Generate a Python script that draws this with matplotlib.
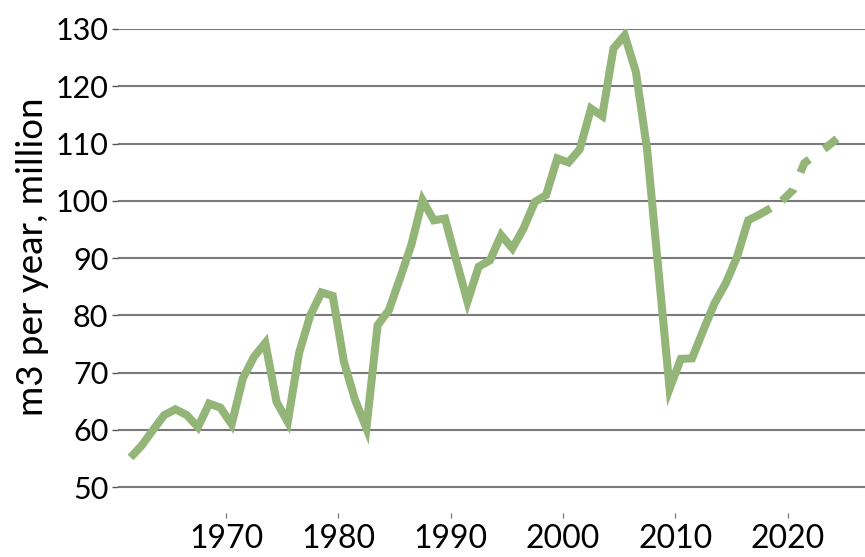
"""Annual volume, m3 per year (million), history and projection."""

import matplotlib
matplotlib.use("Agg")
import matplotlib.pyplot as plt
import numpy as np

plt.rcParams["font.family"] = ["Lato", "DejaVu Sans"]

# history 1961-2018
hist_years = list(range(1961, 2019))
hist_values = [
    55.2, 57.3, 60.0, 62.6, 63.6, 62.6, 60.5, 64.6, 63.9, 61.0,
    69.0, 72.8, 75.2, 64.9, 61.4, 73.4, 80.0, 84.0, 83.4, 71.9,
    65.2, 60.3, 78.3, 80.9, 86.5, 92.3, 100.1, 96.6, 96.9, 89.6,
    82.4, 88.5, 89.6, 94.0, 91.7, 95.2, 99.8, 101.0, 107.4, 106.7,
    109.0, 116.1, 114.8, 126.6, 128.9, 122.5, 108.9, 88.0, 67.2, 72.4,
    72.5, 77.4, 82.1, 85.6, 90.2, 96.6, 97.6, 98.7,
]

# projection 2018-2024
proj_years = [2018, 2019, 2020, 2021, 2022, 2023, 2024]
proj_values = [98.7, 100.0, 101.9, 106.6, 108.0, 109.4, 111.0]

y_ticks = [50, 60, 70, 80, 90, 100, 110, 120, 130]
x_ticks = [1970, 1980, 1990, 2000, 2010, 2020]

LINE_COLOR = "#93b577"


def main() -> None:
    fig = plt.figure(figsize=(8.65, 5.57), dpi=100)
    ax = fig.add_axes([0.1364, 0.079, 0.8636, 0.869])

    # points sit mid-year on the date axis
    hx = np.array(hist_years) + 0.5
    px = np.array(proj_years) + 0.5
    ax.plot(hx, hist_values, color=LINE_COLOR, linewidth=5.8,
            solid_joinstyle="miter", solid_capstyle="butt", zorder=3)
    ax.plot(px, proj_values, color=LINE_COLOR, linewidth=5.8,
            linestyle=(2.6, (2.05, 2.23)), dash_capstyle="butt",
            dash_joinstyle="miter", zorder=3)

    ax.set_xlim(1960.38, 2026.9)
    ax.set_ylim(45.5, 130)
    ax.set_yticks(y_ticks)
    ax.set_xticks(x_ticks)

    for v in y_ticks:
        ax.axhline(v, color="#7a7a7a", linewidth=1.5, zorder=1)

    for side in ("top", "right", "bottom", "left"):
        ax.spines[side].set_visible(False)

    ax.tick_params(axis="y", length=4, width=1.0, color="#555555", pad=3,
                   labelsize=22, labelcolor="black")
    ax.tick_params(axis="x", length=3.6, width=0.9, color="#777777", pad=4,
                   labelsize=23, labelcolor="black")

    fig.text(33 / 865, 1 - 257 / 557, "m3 per year, million", fontsize=26.5,
             rotation=90, ha="center", va="center")

    fig.savefig("out.png", dpi=100)
    plt.close(fig)


if __name__ == "__main__":
    main()
